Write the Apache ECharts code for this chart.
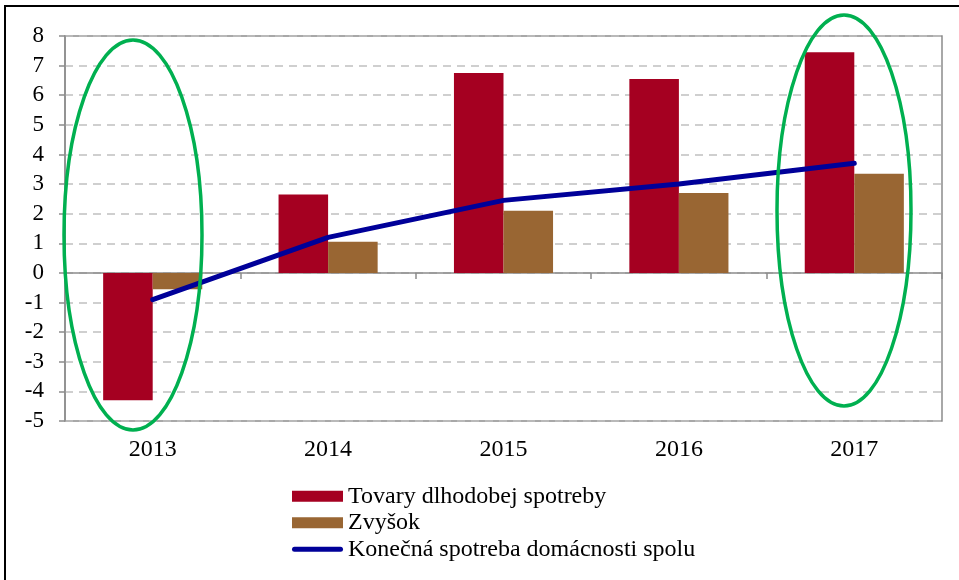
<!DOCTYPE html>
<html>
<head>
<meta charset="utf-8">
<script src="https://cdn.jsdelivr.net/npm/echarts@6/dist/echarts.min.js"></script>
<style>
  html, body { margin: 0; padding: 0; background: #fff; }
  #chart { width: 959px; height: 580px; }
</style>
</head>
<body>
<div id="chart"></div>
<script>
// data
const years = ['2013', '2014', '2015', '2016', '2017']
const tovary = [-4.3, 2.65, 6.75, 6.55, 7.45]
const zvysok = [-0.55, 1.05, 2.1, 2.7, 3.35]
const spolu = [-0.9, 1.2, 2.45, 3.0, 3.7]

const names = ['Tovary dlhodobej spotreby', 'Zvyšok', 'Konečná spotreba domácnosti spolu']

const font = '"Liberation Serif", "Times New Roman", serif'
const gray = '#8c8c8c'

const chart = echarts.init(document.getElementById('chart'))

chart.setOption({
  animation: false,
  textStyle: { fontFamily: font },
  grid: { left: 65, right: 17, top: 36, bottom: 159, show: true, borderColor: gray, borderWidth: 1.5 },
  legend: {
    orient: 'vertical',
    left: 292,
    top: 483,
    padding: 0,
    itemWidth: 51,
    itemHeight: 11,
    itemGap: 0,
    symbolKeepAspect: true,
    textStyle: { fontFamily: font, fontSize: 24, color: '#000', lineHeight: 26.5, padding: [0, 0, 0, 0] },
    data: [
      { name: names[0], icon: 'rect' },
      { name: names[1], icon: 'rect' },
      { name: names[2], icon: 'path://M2.5,0 H48.5 A2.5,2.5 0 0 1 48.5,5 H2.5 A2.5,2.5 0 0 1 2.5,0 Z' }
    ]
  },
  xAxis: [
    {
      // axis line at zero, ticks between years
      type: 'category',
      data: years,
      axisLine: { onZero: true, lineStyle: { color: gray, width: 1.5 } },
      axisTick: { show: true, length: 6, lineStyle: { color: gray, width: 1.5 } },
      axisLabel: { show: false },
      splitLine: { show: false }
    },
    {
      // labels at the bottom
      type: 'category',
      data: years,
      position: 'bottom',
      axisLine: { show: false, onZero: false },
      axisTick: { show: false },
      axisLabel: { fontSize: 24, color: '#000', margin: 17, fontFamily: font },
      splitLine: { show: false }
    }
  ],
  yAxis: {
    type: 'value',
    min: -5,
    max: 8,
    interval: 1,
    axisLine: { show: true, lineStyle: { color: gray, width: 1.5 } },
    axisTick: { show: true, length: 6, lineStyle: { color: gray, width: 1.5 } },
    axisLabel: { fontSize: 23, color: '#000', margin: 21, fontFamily: font },
    splitLine: { show: true, lineStyle: { color: '#c0c0c0', type: [8, 6], width: 1.5 } }
  },
  series: [
    {
      name: names[0],
      type: 'bar',
      data: tovary,
      barGap: '0%',
      barCategoryGap: '43.5%',
      itemStyle: { color: '#A50021' }
    },
    {
      name: names[1],
      type: 'bar',
      data: zvysok,
      itemStyle: { color: '#996633' }
    },
    {
      name: names[2],
      type: 'line',
      data: spolu,
      symbol: 'none',
      z: 5,
      lineStyle: { color: '#000099', width: 5, cap: 'round' },
      itemStyle: { color: '#000099' }
    }
  ],
  graphic: [
    // frame of the original picture
    { type: 'line', shape: { x1: 5, y1: 5, x2: 5, y2: 580 }, style: { stroke: '#000', lineWidth: 2 } },
    { type: 'line', shape: { x1: 4, y1: 6, x2: 959, y2: 6 }, style: { stroke: '#000', lineWidth: 2 } },
    // green highlight ellipses
    { type: 'ellipse', z: 10, shape: { cx: 133, cy: 235, rx: 69, ry: 195 }, style: { fill: 'none', stroke: '#00B050', lineWidth: 3.5 } },
    { type: 'ellipse', z: 10, shape: { cx: 844, cy: 210.5, rx: 67, ry: 195.5 }, style: { fill: 'none', stroke: '#00B050', lineWidth: 3.5 } }
  ]
})
</script>
</body>
</html>
